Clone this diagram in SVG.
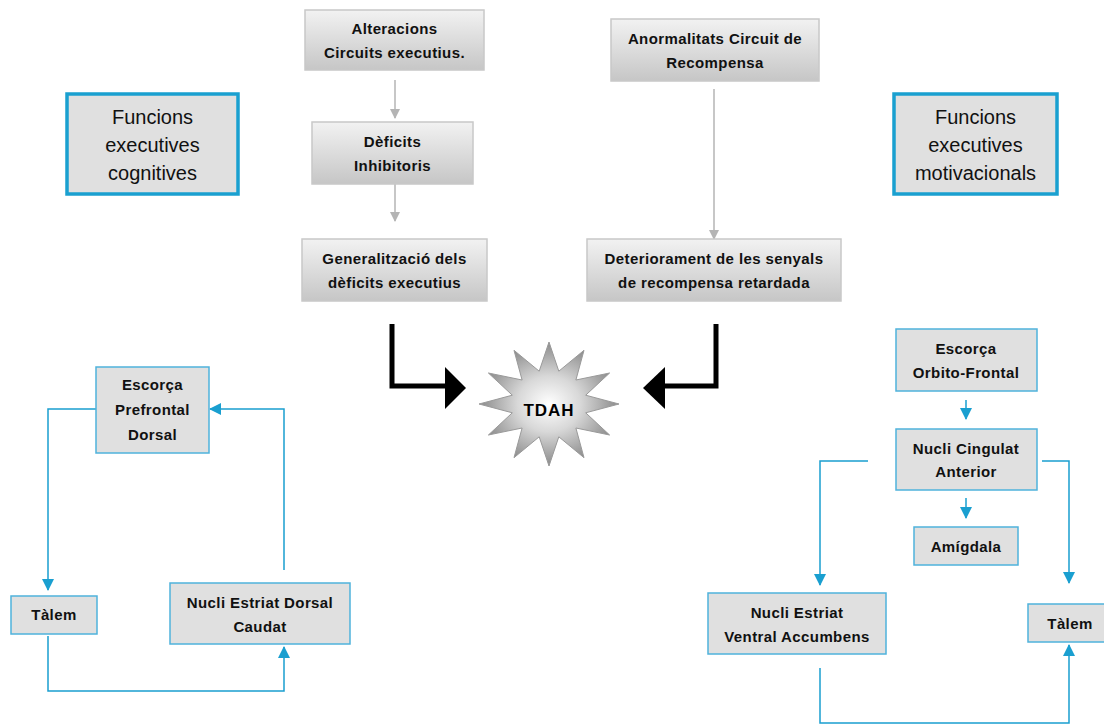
<svg xmlns="http://www.w3.org/2000/svg" width="1104" height="725" viewBox="0 0 1104 725">
<defs>
<linearGradient id="g" x1="0" y1="0" x2="0" y2="1"><stop offset="0" stop-color="#f2f2f2"/><stop offset="1" stop-color="#c6c6c6"/></linearGradient>
<radialGradient id="sg" cx="0.5" cy="0.5" r="0.5"><stop offset="0" stop-color="#ffffff"/><stop offset="0.45" stop-color="#d8d8d8"/><stop offset="1" stop-color="#8a8a8a"/></radialGradient>
<marker id="ag" markerWidth="10" markerHeight="10" refX="9" refY="5" orient="auto" markerUnits="userSpaceOnUse"><path d="M0,0 L10,5 L0,10 Z" fill="#b4b4b4"/></marker>
<marker id="ab" markerWidth="12" markerHeight="12" refX="11" refY="6" orient="auto" markerUnits="userSpaceOnUse"><path d="M0,0 L12,6 L0,12 Z" fill="#1a9fd0"/></marker>
<style>
.gb{fill:url(#g);stroke:#c8c8c8;stroke-width:1.5}
.bb{fill:#e0e0e0;stroke:#4fb3dc;stroke-width:1.5}
.fb{fill:#e0e0e0;stroke:#1aa0d0;stroke-width:3.5}
.t{font-family:"Liberation Sans",Arial,sans-serif;font-weight:bold;font-size:15px;fill:#111;text-anchor:middle;letter-spacing:0.4px}
.f{font-family:"Liberation Sans",Arial,sans-serif;font-size:20px;fill:#111;text-anchor:middle}
.cg{fill:none;stroke:#b4b4b4;stroke-width:1.5;marker-end:url(#ag)}
.cb{fill:none;stroke:#1a9fd0;stroke-width:1.5;marker-end:url(#ab)}
.blk{fill:none;stroke:#000;stroke-width:5}
</style>
</defs>
<rect width="1104" height="725" fill="#fff"/>
<g id="connectors">
<path class="cg" d="M395,80 V118"/>
<path class="cg" d="M395,184 V221"/>
<path class="cg" d="M714,89 V239"/>
<path class="blk" d="M392,324 V386 H448"/>
<path d="M445,367 L466,388 L445,409 Z" fill="#000"/>
<path class="blk" d="M716,324 V386 H662"/>
<path d="M665,367 L643,388 L665,409 Z" fill="#000"/>
<path class="cb" d="M96,409 H48 V590"/>
<path class="cb" d="M48,636 V691 H284 V647"/>
<path class="cb" d="M284,570 V409 H210"/>
<path class="cb" d="M966,400 V419"/>
<path class="cb" d="M966,498 V518"/>
<path class="cb" d="M868,461 H820 V585"/>
<path class="cb" d="M1042,461 H1069 V583"/>
<path class="cb" d="M820,668 V723 H1069 V645"/>
</g>
<g id="n-alteracions"><rect class="gb" x="305" y="10" width="179" height="60"/><text class="t" x="394.5" y="34">Alteracions</text><text class="t" x="394.5" y="58">Circuits executius.</text></g>
<g id="n-deficits"><rect class="gb" x="312" y="122" width="161" height="62"/><text class="t" x="392.5" y="147">Dèficits</text><text class="t" x="392.5" y="171">Inhibitoris</text></g>
<g id="n-generalitzacio"><rect class="gb" x="302" y="239" width="185" height="62"/><text class="t" x="394.5" y="264">Generalització dels</text><text class="t" x="394.5" y="288">dèficits executius</text></g>
<g id="n-anormalitats"><rect class="gb" x="611" y="19" width="208" height="62"/><text class="t" x="715" y="44">Anormalitats Circuit de</text><text class="t" x="715" y="68">Recompensa</text></g>
<g id="n-deteriorament"><rect class="gb" x="587" y="239" width="254" height="62"/><text class="t" x="714" y="264">Deteriorament de les senyals</text><text class="t" x="714" y="288">de recompensa retardada</text></g>
<g id="n-fcog"><rect class="fb" x="67" y="94" width="171" height="100"/><text class="f" x="152.5" y="124">Funcions</text><text class="f" x="152.5" y="152">executives</text><text class="f" x="152.5" y="180">cognitives</text></g>
<g id="n-fmot"><rect class="fb" x="894" y="94" width="163" height="100"/><text class="f" x="975.5" y="124">Funcions</text><text class="f" x="975.5" y="152">executives</text><text class="f" x="975.5" y="180">motivacionals</text></g>
<g id="n-tdah">
<polygon points="619,404 585.7,412.8 609.6,435 575.9,428 584,457.7 558.8,436.8 549,466 539.2,436.8 514,457.7 522.1,428 488.4,435 512.3,412.8 479,404 512.3,395.2 488.4,373 522.1,380 514,350.3 539.2,371.2 549,342 558.8,371.2 584,350.3 575.9,380 609.6,373 585.7,395.2" fill="url(#sg)" stroke="#9a9a9a" stroke-width="1"/>
<text x="549" y="416" font-family="'Liberation Sans',Arial,sans-serif" font-weight="bold" font-size="17" text-anchor="middle" letter-spacing="1" fill="#000">TDAH</text>
</g>
<g id="n-prefrontal"><rect class="bb" x="96" y="367" width="113" height="86"/><text class="t" x="152.5" y="390">Escorça</text><text class="t" x="152.5" y="415">Prefrontal</text><text class="t" x="152.5" y="440">Dorsal</text></g>
<g id="n-talem-l"><rect class="bb" x="11" y="596" width="86" height="38"/><text class="t" x="54" y="620">Tàlem</text></g>
<g id="n-dorsal"><rect class="bb" x="170" y="583" width="180" height="61"/><text class="t" x="260" y="608">Nucli Estriat Dorsal</text><text class="t" x="260" y="632">Caudat</text></g>
<g id="n-orbito"><rect class="bb" x="896" y="329" width="141" height="62"/><text class="t" x="966" y="354">Escorça</text><text class="t" x="966" y="378">Orbito-Frontal</text></g>
<g id="n-cingulat"><rect class="bb" x="896" y="429" width="141" height="61"/><text class="t" x="966" y="454">Nucli Cingulat</text><text class="t" x="966" y="477">Anterior</text></g>
<g id="n-amigdala"><rect class="bb" x="914" y="527" width="104" height="38"/><text class="t" x="966" y="552">Amígdala</text></g>
<g id="n-ventral"><rect class="bb" x="708" y="593" width="178" height="61"/><text class="t" x="797" y="618">Nucli Estriat</text><text class="t" x="797" y="642">Ventral Accumbens</text></g>
<g id="n-talem-r"><rect class="bb" x="1028" y="604" width="80" height="38"/><text class="t" x="1070" y="629">Tàlem</text></g>
</svg>
